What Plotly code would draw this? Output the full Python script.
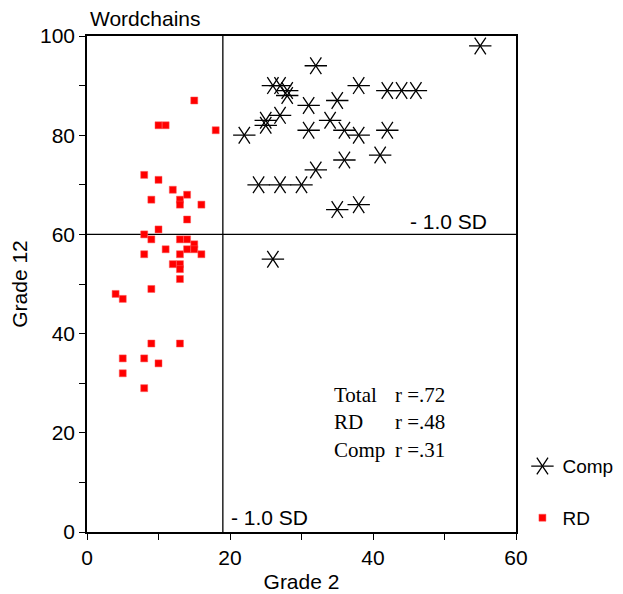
import plotly.graph_objects as go

# RD group (Grade 2, Grade 12)
rd_x = [15, 10, 11, 18, 8, 10, 12, 9, 13, 13, 14, 16, 14, 10, 8, 9, 13, 14, 11, 13,
        14, 15, 15, 16, 8, 12, 13, 13, 13, 9, 4, 5, 9, 13, 5, 8, 10, 5, 8]
rd_y = [87, 82, 82, 81, 72, 71, 69, 67, 67, 66, 68, 66, 63, 61, 60, 59, 59, 59, 57, 56,
        57, 58, 57, 56, 56, 54, 54, 53, 51, 49, 48, 47, 38, 38, 35, 35, 34, 32, 29]

# Comp group (Grade 2, Grade 12)
comp_x = [55, 32, 26, 27, 28, 28, 38, 42, 44, 46, 35, 31, 27, 25, 25, 22, 31, 34, 36, 38,
          42, 41, 36, 32, 24, 27, 30, 35, 38, 26]
comp_y = [98, 94, 90, 90, 89, 88, 90, 89, 89, 89, 87, 86, 84, 83, 82, 80, 81, 83, 81, 80,
          81, 76, 75, 73, 70, 70, 70, 65, 66, 55]

cut_x = 19   # -1.0 SD on Grade 2
cut_y = 60   # -1.0 SD on Grade 12

stat_labels = ["Total", "RD", "Comp"]
stat_values = ["r =.72", "r =.48", "r =.31"]
stat_y = [27.6, 22.2, 16.5]

x_ticks = [0, 20, 40, 60]
y_ticks = [0, 20, 40, 60, 80, 100]

fig = go.Figure()

star_line = dict(color="black", width=1.3)
fig.add_trace(go.Scatter(
    x=comp_x, y=comp_y, mode="markers", name="Comp", legend="legend",
    legendgroup="a",
    marker=dict(symbol="y-left-open", size=14, color="black", line=star_line),
))
fig.add_trace(go.Scatter(
    x=comp_x, y=comp_y, mode="markers", name="", legend="legend2",
    legendgroup="a",
    marker=dict(symbol="y-right-open", size=14, color="black", line=star_line),
))
fig.add_trace(go.Scatter(
    x=rd_x, y=rd_y, mode="markers", name="RD", legend="legend",
    legendgroup="b",
    marker=dict(symbol="square", size=7, color="#ff0000",
                line=dict(color="#ff5555", width=0.5)),
))

# reference lines
fig.add_shape(type="line", x0=cut_x, x1=cut_x, y0=0, y1=100,
              line=dict(color="black", width=1.3), layer="below")
fig.add_shape(type="line", x0=0, x1=60, y0=cut_y, y1=cut_y,
              line=dict(color="black", width=1.3), layer="below")

sans = "Liberation Sans, Arial, sans-serif"
serif = "Liberation Serif, Times New Roman, serif"

fig.add_annotation(x=44.9, y=cut_y, text="- 1.0 SD", showarrow=False,
                   xanchor="left", yanchor="bottom", yshift=-1,
                   font=dict(family=sans, size=21, color="black"))
fig.add_annotation(x=cut_x + 0.9, y=3.0, text="- 1.0 SD", showarrow=False,
                   xanchor="left", yanchor="middle",
                   font=dict(family=sans, size=21, color="black"))

for lab, val, yy in zip(stat_labels, stat_values, stat_y):
    fig.add_annotation(x=34.3, y=yy, text=lab, showarrow=False,
                       xanchor="left", yanchor="middle",
                       font=dict(family=serif, size=21, color="black"))
    fig.add_annotation(x=42.8, y=yy, text=val, showarrow=False,
                       xanchor="left", yanchor="middle",
                       font=dict(family=serif, size=21, color="black"))

axis_common = dict(
    showgrid=False, zeroline=False, showline=True, linecolor="black",
    linewidth=1.5, mirror=True, ticks="outside", ticklen=6, tickwidth=1.3,
    tickcolor="black", tickfont=dict(family=sans, size=21, color="black"),
    minor=dict(ticks="outside", ticklen=6, tickwidth=1.3, tickcolor="black", dtick=10),
    automargin=False,
)

legend_common = dict(
    x=1.015, y=0.171, xanchor="left", yanchor="top",
    bgcolor="rgba(0,0,0,0)", borderwidth=0,
    font=dict(family=sans, size=19, color="black"),
    tracegroupgap=24,
)

W, H = 615, 586
fig.update_layout(
    width=W, height=H,
    margin=dict(l=79, r=107, t=28, b=62, autoexpand=False),
    plot_bgcolor="white", paper_bgcolor="white",
    title=dict(text="Wordchains", xref="paper", x=0.007, xanchor="left",
               yref="container", y=1 - 11 / H, yanchor="middle",
               font=dict(family=sans, size=21, color="black"), automargin=False),
    xaxis=dict(range=[0, 60], tickvals=x_ticks, ticktext=[str(v) for v in x_ticks],
               title=dict(text="Grade 2", standoff=6,
                          font=dict(family=sans, size=21, color="black")),
               **axis_common),
    yaxis=dict(range=[0, 100], tickvals=y_ticks, ticktext=[str(v) for v in y_ticks],
               title=dict(text="Grade 12", standoff=10,
                          font=dict(family=sans, size=21, color="black")),
               **axis_common),
    legend=legend_common,
    legend2=legend_common,
    showlegend=True,
)

fig.write_html("out.html")
